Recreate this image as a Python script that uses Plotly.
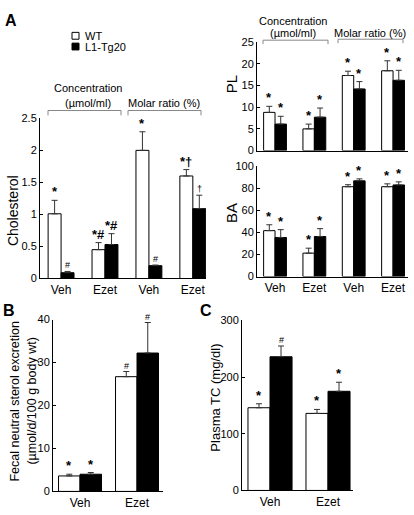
import plotly.graph_objects as go

# ---------------- data ----------------
groups_A = ["Veh", "Ezet", "Veh", "Ezet"]
chol_wt = [1.01, 0.45, 2.00, 1.60]
chol_wt_err = [0.21, 0.11, 0.29, 0.10]
chol_tg = [0.09, 0.53, 0.20, 1.09]
chol_tg_err = [0.02, 0.17, 0.01, 0.21]
chol_wt_sig = ["*", "*#", "*", "*†"]
chol_tg_sig = ["#", "*#", "#", "†"]

pl_wt = [8.8, 5.0, 17.3, 18.4]
pl_wt_err = [1.4, 1.1, 1.0, 2.3]
pl_tg = [6.1, 7.7, 14.2, 16.2]
pl_tg_err = [1.8, 2.1, 1.7, 2.3]
pl_wt_sig = ["*", "*", "*", "*"]
pl_tg_sig = ["*", "*", "*", "*"]

ba_wt = [41.6, 21.2, 81.4, 81.4]
ba_wt_err = [5.3, 4.5, 1.8, 2.6]
ba_tg = [35.4, 36.3, 86.7, 83.0]
ba_tg_err = [7.1, 7.1, 1.8, 2.8]
ba_wt_sig = ["*", "*", "*", "*"]
ba_tg_sig = ["*", "*", "*", "*"]

groups_BC = ["Veh", "Ezet"]
fecal_wt = [3.6, 26.7]
fecal_wt_err = [0.4, 1.2]
fecal_tg = [4.0, 32.2]
fecal_tg_err = [0.4, 7.1]
fecal_wt_sig = ["*", "#"]
fecal_tg_sig = ["*", "#"]

tc_wt = [146, 136]
tc_wt_err = [7, 7]
tc_tg = [236, 175]
tc_tg_err = [19, 16]
tc_wt_sig = ["*", "*"]
tc_tg_sig = ["#", "*"]

series_names = ["WT", "L1-Tg20"]

# ---------------- layout helpers ----------------
W, H = 414, 515
FONT = "Liberation Sans, Arial, sans-serif"


def px(x):
    return x / W


def py(y):
    return 1 - y / H


fig = go.Figure()
annotations = []
shapes = []


def add_panel(idx, cats, wt, wt_err, tg, tg_err, wt_sig, tg_sig, w,
              xdom, ydom, xrange, yrange, yticks, show_xlabels=True):
    sfx = "" if idx == 1 else str(idx)
    xa, ya = "x" + sfx, "y" + sfx
    pos = list(range(len(cats)))
    n = len(cats)
    fig.add_bar(x=pos, y=wt, width=w, offset=-w, xaxis=xa, yaxis=ya,
                name=series_names[0], showlegend=False, hoverinfo="skip",
                marker=dict(color="white", line=dict(color="black", width=1)),
                error_y=dict(type="data", symmetric=False, array=wt_err,
                             arrayminus=[0] * n, color="#333", thickness=1, width=3))
    fig.add_bar(x=pos, y=tg, width=w, offset=0, xaxis=xa, yaxis=ya,
                name=series_names[1], showlegend=False, hoverinfo="skip",
                marker=dict(color="black", line=dict(color="black", width=1)),
                error_y=dict(type="data", symmetric=False, array=tg_err,
                             arrayminus=[0] * n, color="#333", thickness=1, width=3))
    for i in range(n):
        for val, err, sig, off in ((wt[i], wt_err[i], wt_sig[i], -w / 2),
                                   (tg[i], tg_err[i], tg_sig[i], w / 2)):
            if sig:
                small = "*" not in sig
                annotations.append(dict(
                    x=pos[i] + off, y=val + err, xref=xa, yref=ya,
                    text=sig, showarrow=False, yanchor="bottom", yshift=-1,
                    font=dict(family=FONT, size=9 if small else 13, color="black",
                              weight="normal" if small else "bold")))
    layout_x = dict(domain=xdom, range=xrange, anchor=ya, tickvals=pos,
                    ticktext=cats, showline=True, linecolor="black", linewidth=1,
                    ticks="", showgrid=False, zeroline=False,
                    showticklabels=show_xlabels, fixedrange=True,
                    tickfont=dict(family=FONT, size=12, color="black"))
    layout_y = dict(domain=ydom, range=yrange, anchor=xa, tickvals=yticks,
                    showline=True, linecolor="black", linewidth=1,
                    ticks="inside", ticklen=3, tickcolor="black",
                    showgrid=False, zeroline=False, fixedrange=True,
                    tickfont=dict(family=FONT, size=11, color="black"))
    fig.update_layout(**{"xaxis" + sfx: layout_x, "yaxis" + sfx: layout_y})


# Cholesterol (A left)
add_panel(1, groups_A, chol_wt, chol_wt_err, chol_tg, chol_tg_err,
          chol_wt_sig, chol_tg_sig, 0.295,
          [px(40), px(206)], [py(279), py(115)], [-0.48, 3.3], [0, 2.5],
          [0, 0.5, 1, 1.5, 2, 2.5])
# PL (A right top)
add_panel(2, groups_A, pl_wt, pl_wt_err, pl_tg, pl_tg_err,
          pl_wt_sig, pl_tg_sig, 0.29,
          [px(257), px(408)], [py(148), py(37)], [-0.458, 3.38], [0, 25],
          [0, 5, 10, 15, 20, 25], show_xlabels=False)
# BA (A right bottom)
add_panel(3, groups_A, ba_wt, ba_wt_err, ba_tg, ba_tg_err,
          ba_wt_sig, ba_tg_sig, 0.29,
          [px(257), px(408)], [py(277), py(164)], [-0.458, 3.38], [0, 100],
          [0, 20, 40, 60, 80, 100])
# B fecal
add_panel(4, groups_BC, fecal_wt, fecal_wt_err, fecal_tg, fecal_tg_err,
          fecal_wt_sig, fecal_tg_sig, 0.377,
          [px(53), px(163)], [py(497), py(321)], [-0.474, 1.456], [0, 40],
          [0, 10, 20, 30, 40])
# C plasma TC
add_panel(5, groups_BC, tc_wt, tc_wt_err, tc_tg, tc_tg_err,
          tc_wt_sig, tc_tg_sig, 0.38,
          [px(242), px(353)], [py(496), py(322)], [-0.483, 1.431], [0, 300],
          [0, 100, 200, 300])


def text(x, y, s, size=11, angle=0, bold=False, xanchor="center"):
    annotations.append(dict(
        x=px(x), y=py(y), xref="paper", yref="paper", text=s, showarrow=False,
        textangle=angle, xanchor=xanchor, yanchor="middle",
        font=dict(family=FONT, size=size, color="black",
                  weight="bold" if bold else "normal")))


def bracket(x0, x1, y, drop=5):
    shapes.append(dict(
        type="path", xref="paper", yref="paper",
        path=f"M {px(x0)} {py(y + drop)} L {px(x0)} {py(y)} L {px(x1)} {py(y)} L {px(x1)} {py(y + drop)}",
        line=dict(color="#888", width=1)))


# panel letters
text(11, 15, "A", size=16, bold=True)
text(9, 312, "B", size=16, bold=True)
text(206, 312, "C", size=16, bold=True)

# legend (manual)
shapes.append(dict(type="rect", xref="paper", yref="paper",
                   x0=px(72), x1=px(79), y0=py(34), y1=py(27),
                   fillcolor="white", line=dict(color="black", width=1)))
shapes.append(dict(type="rect", xref="paper", yref="paper",
                   x0=px(72), x1=px(79), y0=py(45), y1=py(38),
                   fillcolor="black", line=dict(color="black", width=1)))
text(83, 31, series_names[0], size=11, xanchor="left")
text(83, 42, series_names[1], size=11, xanchor="left")

# brackets & group headers
text(88, 84, "Concentration", size=11)
text(88, 99, "(µmol/ml)", size=11)
text(164, 99, "Molar ratio (%)", size=11)
bracket(48, 121, 107)
bracket(128, 201, 107)

text(293, 15, "Concentration", size=11)
text(293, 28, "(µmol/ml)", size=11)
text(370, 28, "Molar ratio (%)", size=11)
bracket(263, 328, 35, 4)
bracket(338, 403, 34, 4)

# axis titles
text(13, 210, "Cholesterol", size=14, angle=-90)
text(231, 80, "PL", size=15, angle=-90)
text(231, 212, "BA", size=15, angle=-90)
text(15, 405, "Fecal neutral sterol excretion", size=12.5, angle=-90)
text(32, 405, "(µmol/d/100 g body wt)", size=12.5, angle=-90)
text(216, 401, "Plasma TC (mg/dl)", size=13, angle=-90)

fig.update_layout(
    width=W, height=H, margin=dict(l=0, r=0, t=0, b=0),
    paper_bgcolor="white", plot_bgcolor="white",
    barmode="overlay", showlegend=False, hovermode=False,
    font=dict(family=FONT, color="black"),
    annotations=annotations, shapes=shapes,
)

fig.write_html("out.html",
               config={"displayModeBar": False, "staticPlot": True},
               post_script="document.body.style.margin='0';document.body.style.overflow='hidden';")
